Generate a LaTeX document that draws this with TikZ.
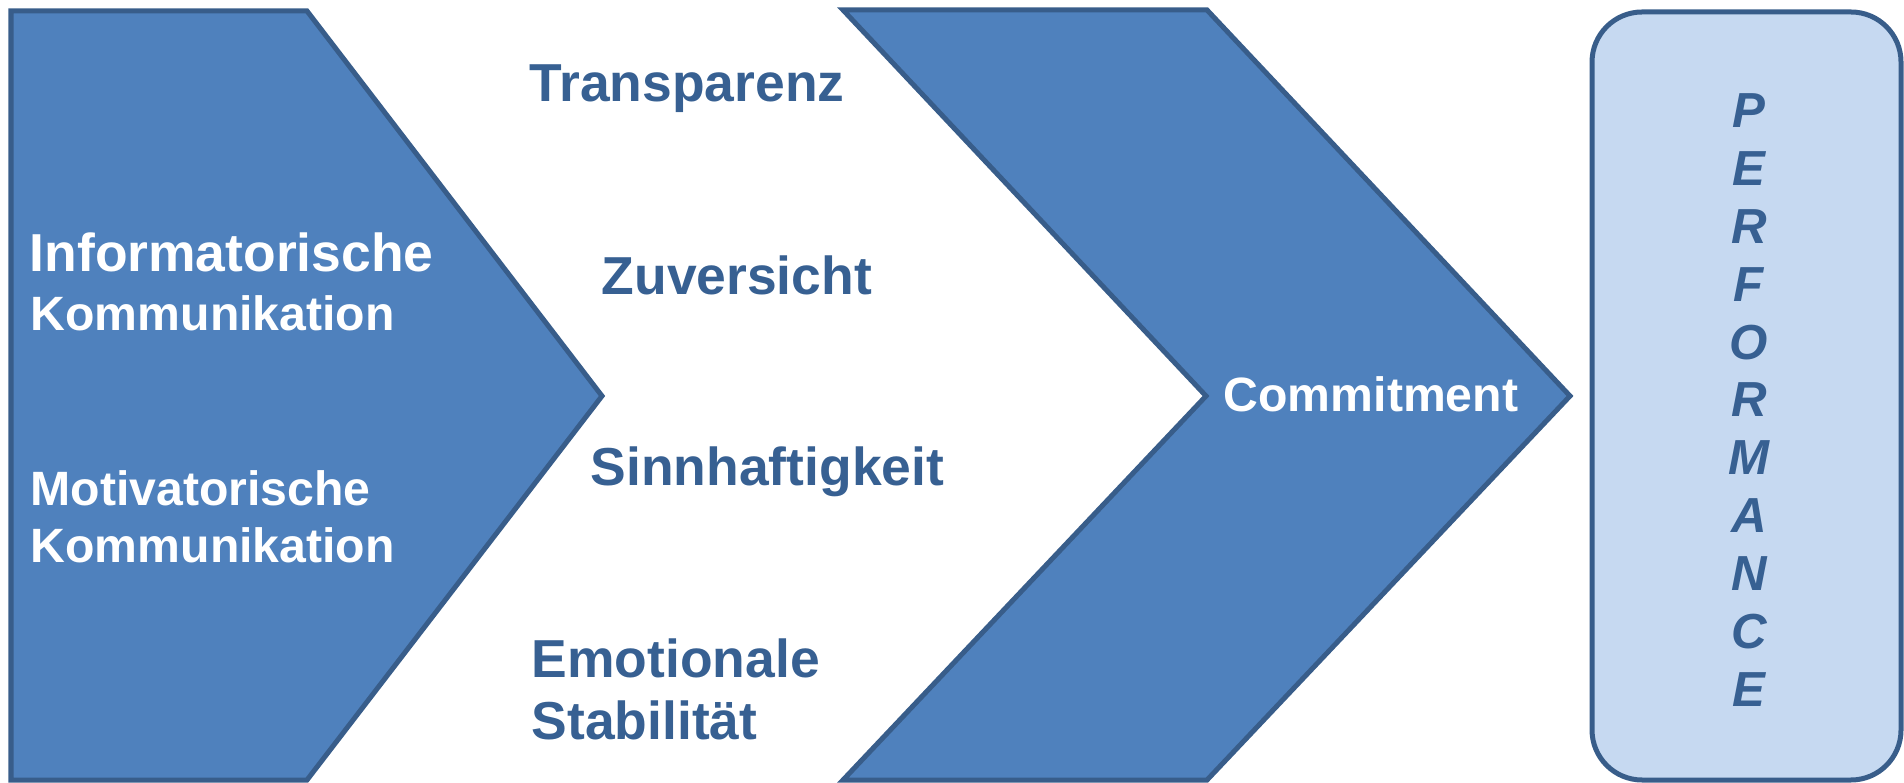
\documentclass[tikz,border=0pt]{standalone}
\usepackage{fontspec}
\setmainfont{Liberation Sans}
\definecolor{fillblue}{HTML}{4F81BD}
\definecolor{edgeblue}{HTML}{385D8A}
\definecolor{textblue}{HTML}{376092}
\definecolor{lightblue}{HTML}{C6D9F1}
\begin{document}
\begin{tikzpicture}[x=0.01cm,y=-0.01cm,
  shapebox/.style={fill=fillblue,draw=edgeblue,line width=0.05cm,line join=miter},
  whitetxt/.style={anchor=base west,inner sep=0pt,text=white,font=\fontsize{15.2}{16}\selectfont\bfseries},
  whitesmall/.style={anchor=base west,inner sep=0pt,text=white,font=\fontsize{13.7}{15}\selectfont\bfseries},
  bluetxt/.style={anchor=base west,inner sep=0pt,text=textblue,font=\fontsize{15.2}{16}\selectfont\bfseries},
  perfletter/.style={anchor=base,inner sep=0pt,text=textblue,font=\fontsize{14}{15}\selectfont\bfseries\itshape}]
\useasboundingbox (0,0) rectangle (1904,783);
% left pentagon
\draw[shapebox] (11,11) -- (307,11) -- (602,396) -- (307,780) -- (11,780) -- cycle;
% chevron
\draw[shapebox] (843,10) -- (1207,10) -- (1570,396) -- (1207,780) -- (843,780) -- (1206,396) -- cycle;
% performance box
\draw[fill=lightblue,draw=edgeblue,line width=0.05cm,rounded corners=0.5cm] (1592,12) rectangle (1901,780);
% texts on left pentagon
\node[whitetxt] (inf1) at (29,272) {Informatorische};
\node[whitesmall] (inf2) at (30,331) {Kommunikation};
\node[whitesmall] (mot1) at (30,506) {Motivatorische};
\node[whitesmall] (mot2) at (30,563) {Kommunikation};
% middle texts
\node[bluetxt] (tra) at (529,102) {Transparenz};
\node[bluetxt] (zuv) at (601,295) {Zuversicht};
\node[bluetxt] (sin) at (590,486) {Sinnhaftigkeit};
\node[bluetxt] (emo1) at (531,677) {Emotionale};
\node[bluetxt] (emo2) at (531,739) {Stabilität};
% commitment
\node[whitesmall] (com) at (1223,412) {Commitment};
% performance letters
\foreach \l [count=\i from 0] in {P,E,R,F,O,R,M,A,N,C,E}{
  \node[perfletter] (perf\i) at (1749,128+57.8*\i) {\l};
}
\end{tikzpicture}
\end{document}
